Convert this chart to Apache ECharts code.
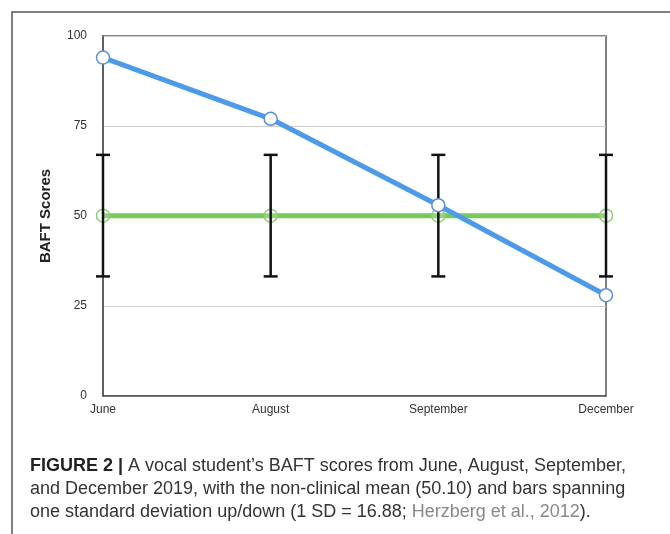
<!DOCTYPE html>
<html>
<head>
<meta charset="utf-8">
<script src="https://cdn.jsdelivr.net/npm/echarts@6/dist/echarts.min.js"></script>
<style>
html,body{margin:0;padding:0;background:#fff;}
#c{width:670px;height:534px;}
</style>
</head>
<body>
<div id="c"></div>
<script>
var months = ['June', 'August', 'September', 'December'];
var baftScores = [94, 77, 53, 28];
var nonClinicalMean = [50.1, 50.1, 50.1, 50.1];
var sdUpper = [66.98, 66.98, 66.98, 66.98];
var sdLower = [33.22, 33.22, 33.22, 33.22];
var yTicks = [0, 25, 50, 75, 100];

var errData = months.map(function (m, i) { return [i, sdLower[i], sdUpper[i]]; });

var chart = echarts.init(document.getElementById('c'), null, {renderer: 'canvas'});
var font = '"Liberation Sans", Arial, sans-serif';
chart.setOption({
  animation: false,
  backgroundColor: '#fff',
  grid: {left: 103, right: 64, top: 36, bottom: 138, show: true, borderColor: '#555', borderWidth: 1.5, backgroundColor: 'transparent'},
  xAxis: {
    type: 'category',
    data: months,
    boundaryGap: false,
    axisLine: {lineStyle: {color: '#555', width: 1.5}},
    axisTick: {show: false},
    axisLabel: {fontFamily: font, fontSize: 12, color: '#333', margin: 8},
    splitLine: {show: false}
  },
  yAxis: {
    type: 'value',
    min: 0, max: 100, interval: 25,
    name: 'BAFT Scores',
    nameLocation: 'middle',
    nameGap: 50,
    nameTextStyle: {fontFamily: font, fontSize: 15, fontWeight: 'bold', color: '#222'},
    axisLine: {show: true, lineStyle: {color: '#555', width: 1.5}},
    axisTick: {show: false},
    axisLabel: {fontFamily: font, fontSize: 12, color: '#333', margin: 16,
      formatter: function (v) { return yTicks.indexOf(v) >= 0 ? String(v) : ''; }},
    splitLine: {show: true, lineStyle: {color: '#ccc', width: 1}}
  },
  series: [
    {
      type: 'line', name: 'Non-clinical mean', data: nonClinicalMean, z: 2,
      lineStyle: {color: '#78c85a', width: 5},
      symbol: 'circle', symbolSize: 13,
      itemStyle: {color: 'rgba(255,255,255,0.2)', borderColor: '#8fcf7a', borderWidth: 1.5}
    },
    {
      type: 'custom', name: 'SD', z: 3,
      data: errData,
      renderItem: function (params, api) {
        var x = api.value(0);
        var lo = api.coord([x, api.value(1)]);
        var hi = api.coord([x, api.value(2)]);
        var hw = 7;
        var st = {stroke: '#111', lineWidth: 2.5};
        return {type: 'group', children: [
          {type: 'line', shape: {x1: lo[0], y1: lo[1], x2: hi[0], y2: hi[1]}, style: st},
          {type: 'line', shape: {x1: lo[0] - hw, y1: lo[1], x2: lo[0] + hw, y2: lo[1]}, style: st},
          {type: 'line', shape: {x1: hi[0] - hw, y1: hi[1], x2: hi[0] + hw, y2: hi[1]}, style: st}
        ]};
      }
    },
    {
      type: 'line', name: 'BAFT', data: baftScores, z: 4,
      lineStyle: {color: '#4d9be8', width: 5},
      symbol: 'circle', symbolSize: 13,
      itemStyle: {color: '#fff', borderColor: '#5b8fd6', borderWidth: 1.5}
    }
  ],
  graphic: [
    {type: 'rect', z: 0, silent: true, shape: {x: 12, y: 12, width: 720, height: 600},
      style: {fill: 'none', stroke: '#555', lineWidth: 1.5}},
    {type: 'text', left: 30, top: 457, style: {
      text: '{b|FIGURE 2 |} A vocal student\u2019s BAFT scores from June, August, September,',
      font: '18px ' + font, fill: '#333',
      rich: {b: {fontWeight: 'bold', fontSize: 18, fontFamily: font, fill: '#222'}}
    }},
    {type: 'text', left: 30, top: 480, style: {
      text: 'and December 2019, with the non-clinical mean (50.10) and bars spanning',
      font: '18px ' + font, fill: '#333'
    }},
    {type: 'text', left: 30, top: 503, style: {
      text: 'one standard deviation up/down (1 SD = 16.88; {g|Herzberg et al., 2012}).',
      font: '18px ' + font, fill: '#333',
      rich: {g: {fontSize: 18, fontFamily: font, fill: '#888'}}
    }}
  ]
});
</script>
</body>
</html>
